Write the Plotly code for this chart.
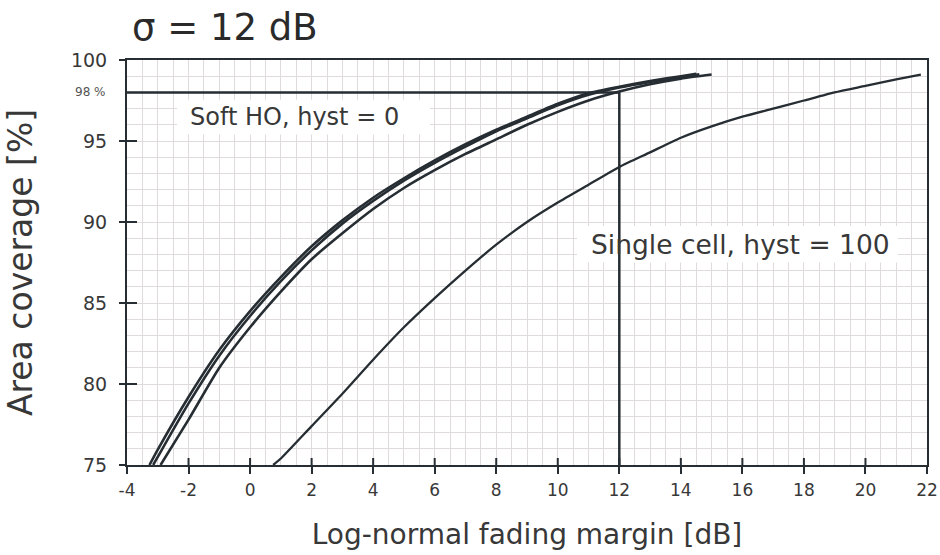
import plotly.graph_objects as go

# Soft handover, hysteresis 0: three nearly coincident curves
soft_a_x = [-3.27, -3, -2, -1, 0, 1, 2, 3, 4, 5, 6, 7, 8, 9, 10, 11, 12, 13, 14, 14.5]
soft_a_y = [75.0, 75.95, 79.2, 82.1, 84.5, 86.6, 88.5, 90.1, 91.5, 92.7, 93.8, 94.8,
            95.7, 96.5, 97.3, 97.95, 98.35, 98.7, 99.0, 99.15]

soft_b_x = [-3.15, -3, -2, -1, 0, 1, 2, 3, 4, 5, 6, 7, 8, 9, 10, 11, 12, 13, 14, 14.6]
soft_b_y = [75.0, 75.5, 78.8, 81.75, 84.2, 86.35, 88.25, 89.9, 91.3, 92.55, 93.65, 94.65,
            95.6, 96.4, 97.2, 97.85, 98.3, 98.65, 98.95, 99.12]

soft_c_x = [-2.91, -2, -1, 0, 1, 2, 3, 4, 5, 6, 7, 8, 9, 10, 11, 12, 13, 14, 15]
soft_c_y = [75.0, 77.8, 81.0, 83.5, 85.7, 87.7, 89.3, 90.8, 92.1, 93.2, 94.2, 95.1,
            96.0, 96.8, 97.5, 98.05, 98.5, 98.85, 99.1]

# Single cell, hysteresis 100
single_x = [0.75, 1, 2, 3, 4, 5, 6, 7, 8, 9, 10, 11, 12, 13, 14, 15, 16, 17, 18,
            19, 20, 21, 21.8]
single_y = [75.0, 75.4, 77.4, 79.4, 81.5, 83.5, 85.3, 87.0, 88.6, 90.0, 91.2, 92.3,
            93.4, 94.3, 95.2, 95.9, 96.5, 97.0, 97.5, 98.0, 98.4, 98.8, 99.1]

# Target coverage and the margin needed to reach it
target_coverage = 98
target_margin = 12

x_ticks = [-4, -2, 0, 2, 4, 6, 8, 10, 12, 14, 16, 18, 20, 22]
x_tick_labels = ["-4", "-2", "0", "2", "4", "6", "8", "10", "12", "14", "16", "18",
                 "20", "22"]
y_ticks = [75, 80, 85, 90, 95, 100]
y_tick_labels = ["75", "80", "85", "90", "95", "100"]
x_range = [-4, 22]
y_range = [75, 100]

ink = "#262d33"
text_col = "#383838"
grid_col = "#dfdbdc"
font = "DejaVu Sans, Verdana, sans-serif"

fig = go.Figure()

for xs, ys in [(soft_a_x, soft_a_y), (soft_b_x, soft_b_y), (soft_c_x, soft_c_y)]:
    fig.add_trace(go.Scatter(x=xs, y=ys, mode="lines",
                             line=dict(color=ink, width=2.6, shape="spline", smoothing=0.6),
                             hoverinfo="skip", showlegend=False))

fig.add_trace(go.Scatter(x=single_x, y=single_y, mode="lines",
                         line=dict(color=ink, width=2.3, shape="spline", smoothing=0.6),
                         hoverinfo="skip", showlegend=False))

# 98 % coverage reference: horizontal to the 12 dB margin, then down to the axis
fig.add_trace(go.Scatter(x=[x_range[0], target_margin, target_margin],
                         y=[target_coverage, target_coverage, y_range[0]],
                         mode="lines", line=dict(color=ink, width=2.5),
                         hoverinfo="skip", showlegend=False))

# inner halves of the crossing tick marks (the outer halves come from the axes)
for xv in x_ticks[1:-1]:
    fig.add_shape(type="line", xref="x", yref="y", x0=xv, x1=xv,
                  ysizemode="pixel", yanchor=y_range[0], y0=0, y1=7,
                  line=dict(color=ink, width=2), layer="above")
for yv in y_ticks[1:-1]:
    fig.add_shape(type="line", xref="x", yref="y", y0=yv, y1=yv,
                  xsizemode="pixel", xanchor=x_range[0], x0=0, x1=10,
                  line=dict(color=ink, width=2), layer="above")

# white label panels sit between the grid and the curves
fig.add_shape(type="rect", xref="x", yref="y", x0=-2.37, x1=5.85, y0=95.4, y1=97.55,
              fillcolor="white", line=dict(width=0), layer="between")
fig.add_shape(type="rect", xref="x", yref="y", x0=10.63, x1=21.05, y0=87.5, y1=89.75,
              fillcolor="white", line=dict(width=0), layer="between")

fig.add_annotation(x=-2.02, y=96.5, xref="x", yref="y", text="Soft HO, hyst = 0",
                   showarrow=False, xanchor="left", yanchor="middle",
                   font=dict(family=font, size=24, color=text_col))
fig.add_annotation(x=11.0, y=88.6, xref="x", yref="y", text="Single cell, hyst = 100",
                   showarrow=False, xanchor="left", yanchor="middle",
                   font=dict(family=font, size=26.5, color=text_col))
fig.add_annotation(x=0, y=target_coverage, xref="paper", yref="y",
                   text=f"{target_coverage} %", showarrow=False,
                   xanchor="right", yanchor="middle", xshift=-19,
                   font=dict(family=font, size=12, color="#555"))

fig.update_layout(
    width=940, height=555,
    margin=dict(l=127, r=13, t=60, b=90),
    paper_bgcolor="white", plot_bgcolor="white",
    title=dict(text="σ = 12 dB", x=132 / 940, xanchor="left", xref="container",
               y=1 - 27 / 555, yanchor="middle", yref="container",
               font=dict(family=font, size=37, color="#2a2a2a")),
    font=dict(family=font, color=text_col),
)

fig.layout.xaxis.update(
    range=x_range, tickvals=x_ticks, ticktext=x_tick_labels, ticks="outside",
    ticklen=7, tickwidth=2, ticklabelstandoff=2, automargin=False,
    tickcolor=ink, showline=True, linecolor=ink, linewidth=2, mirror=True,
    showgrid=True, gridcolor=grid_col, gridwidth=1, zeroline=False,
    tickfont=dict(family=font, size=17, color=text_col),
    title=dict(text="Log-normal fading margin [dB]", standoff=25,
               font=dict(family=font, size=28, color=text_col)),
    minor=dict(dtick=0.5, showgrid=True, gridcolor=grid_col, gridwidth=1),
)
fig.layout.yaxis.update(
    range=y_range, tickvals=y_ticks, ticktext=y_tick_labels, ticks="outside",
    ticklen=6, tickwidth=2, ticklabelstandoff=8, automargin=False,
    tickcolor=ink, showline=True, linecolor=ink, linewidth=2, mirror=True,
    showgrid=True, gridcolor=grid_col, gridwidth=1, zeroline=False,
    tickfont=dict(family=font, size=19, color=text_col),
    title=dict(text="Area coverage [%]", standoff=28,
               font=dict(family=font, size=33, color=text_col)),
    minor=dict(dtick=1, showgrid=True, gridcolor=grid_col, gridwidth=1),
)

fig.write_html("out.html")
